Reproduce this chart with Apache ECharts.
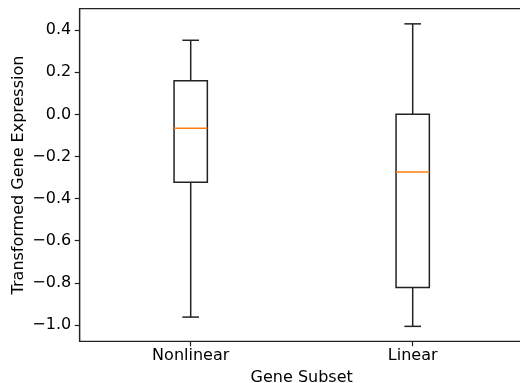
<!DOCTYPE html>
<html><head><meta charset="utf-8">
<script src="https://cdn.jsdelivr.net/npm/echarts@6/dist/echarts.min.js"></script>
<style>html,body{margin:0;padding:0;background:#fff}#c{width:520px;height:383px}</style>
</head><body><div id="c"></div>
<script>
const categories = ['Nonlinear', 'Linear'];
// [min whisker, Q1, median, Q3, max whisker]
const nonlinearStats = [-0.963, -0.322, -0.066, 0.160, 0.352];
const linearStats = [-1.007, -0.822, -0.274, 0.000, 0.430];
const yTicks = [-1.0, -0.8, -0.6, -0.4, -0.2, 0.0, 0.2, 0.4];
const yMin = -1.078, yMax = 0.502;

const boxData = [nonlinearStats, linearStats].map((s, i) => [i].concat(s));

const chart = echarts.init(document.getElementById('c'), null, {renderer: 'canvas'});
const font = 'DejaVu Sans';
const ink = '#222';
const fmt = v => (v < 0 ? '\u2212' : '') + Math.abs(v).toFixed(1);

chart.setOption({
  animation: false,
  backgroundColor: '#fff',
  textStyle: {fontFamily: font},
  grid: {left: 79.7, right: -3.7, top: 8.7, bottom: 41.7, outerBoundsMode: 'none', containLabel: false,
         show: true, borderColor: ink, borderWidth: 1.2, backgroundColor: 'transparent'},
  xAxis: {
    type: 'category', data: categories, boundaryGap: true,
    name: 'Gene Subset', nameLocation: 'middle', nameGap: 29, nameMoveOverlap: false,
    nameTextStyle: {fontFamily: font, fontSize: 16, color: '#000'},
    axisLine: {show: true, onZero: false, lineStyle: {color: ink, width: 1.2}},
    axisTick: {show: true, alignWithLabel: true, length: 5, lineStyle: {color: ink, width: 1.2}},
    axisLabel: {fontFamily: font, fontSize: 16, color: '#000', margin: 7},
    splitLine: {show: false}
  },
  yAxis: {
    type: 'value', min: yMin, max: yMax,
    name: 'Transformed Gene Expression', nameLocation: 'middle', nameGap: 53, nameRotate: 90, nameMoveOverlap: false,
    nameTextStyle: {fontFamily: font, fontSize: 16, color: '#000'},
    axisLine: {show: true, onZero: false, lineStyle: {color: ink, width: 1.2}},
    axisTick: {show: true, length: 5, customValues: yTicks, lineStyle: {color: ink, width: 1.2}},
    axisLabel: {fontFamily: font, fontSize: 16, color: '#000', margin: 8.5, customValues: yTicks, formatter: fmt},
    splitLine: {show: false}
  },
  series: [{
    type: 'custom',
    data: boxData,
    encode: {x: 0, y: [1, 2, 3, 4, 5]},
    renderItem: function (params, api) {
      const idx = api.value(0);
      const cw = api.size([1, 0])[0];
      const bw = cw * 0.15, cap = bw / 2;
      const p = k => api.coord([idx, api.value(k)]);
      const pMin = p(1), pQ1 = p(2), pMed = p(3), pQ3 = p(4), pMax = p(5);
      const cx = pMin[0];
      const ls = {stroke: ink, lineWidth: 1.5, fill: null};
      return {
        type: 'group',
        children: [
          {type: 'line', shape: {x1: cx, y1: pMax[1], x2: cx, y2: pQ3[1]}, style: ls},
          {type: 'line', shape: {x1: cx, y1: pQ1[1], x2: cx, y2: pMin[1]}, style: ls},
          {type: 'line', shape: {x1: cx - cap / 2, y1: pMax[1], x2: cx + cap / 2, y2: pMax[1]}, style: ls},
          {type: 'line', shape: {x1: cx - cap / 2, y1: pMin[1], x2: cx + cap / 2, y2: pMin[1]}, style: ls},
          {type: 'rect', shape: {x: cx - bw / 2, y: pQ3[1], width: bw, height: pQ1[1] - pQ3[1]}, style: {stroke: ink, lineWidth: 1.5, fill: 'none'}},
          {type: 'line', shape: {x1: cx - bw / 2, y1: pMed[1], x2: cx + bw / 2, y2: pMed[1]}, style: {stroke: '#ff7f0e', lineWidth: 1.5}}
        ]
      };
    }
  }]
});
</script></body></html>
